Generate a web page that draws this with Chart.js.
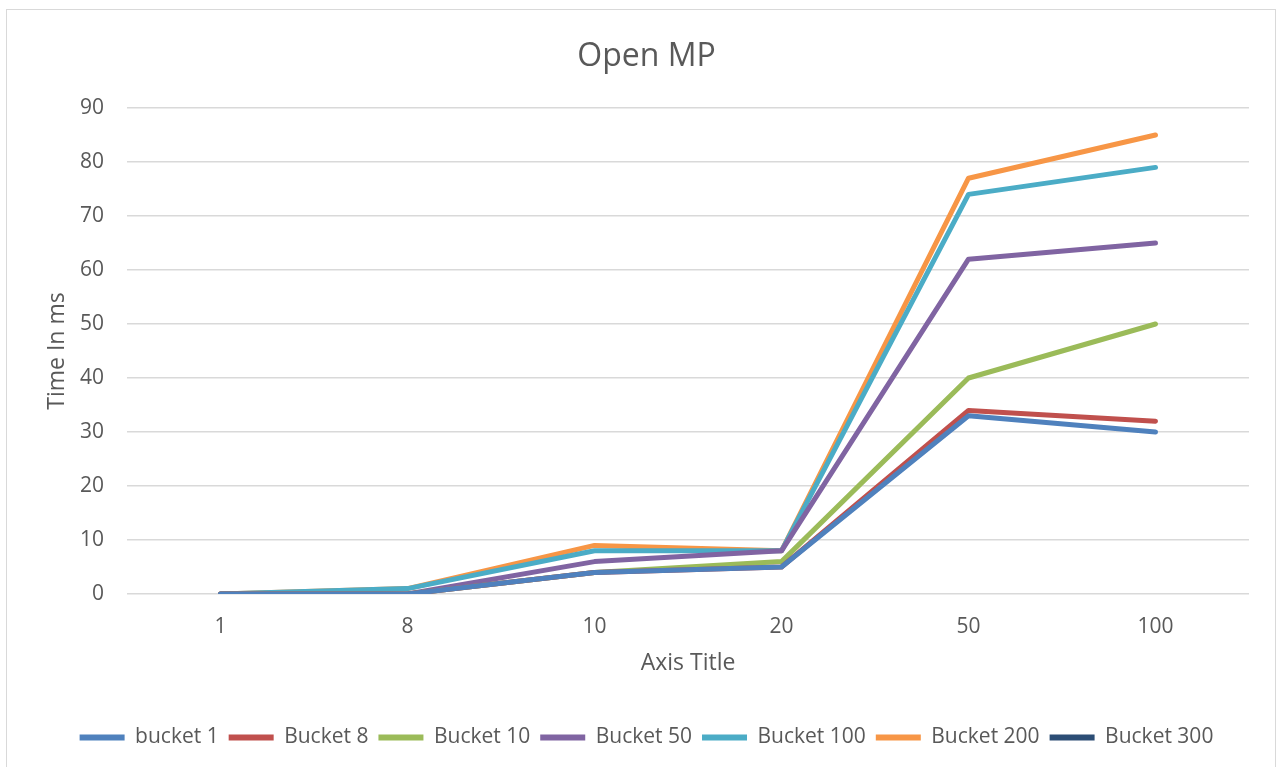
<!DOCTYPE html>
<html>
<head>
<meta charset="utf-8">
<script src="https://cdn.jsdelivr.net/npm/chart.js@4.4.1/dist/chart.umd.min.js"></script>
<style>
  html, body { margin: 0; padding: 0; background: #ffffff; }
  #frame { position: absolute; left: 6px; top: 9px; width: 1270px; height: 770px; border: 1px solid #d9d9d9; box-sizing: border-box; }
  #wrap { position: absolute; left: 0; top: 0; width: 1285px; height: 767px; }
</style>
</head>
<body>
<div id="frame"></div>
<div id="wrap"><canvas id="chart" width="1285" height="767"></canvas></div>
<script>
// Thread counts on the x axis
const categories = ['1', '8', '10', '20', '50', '100'];

// Run time (ms) per bucket setting
const bucket1   = [0, 0, 4, 5, 33, 30];
const bucket8   = [0, 0, 4, 5, 34, 32];
const bucket10  = [0, 0, 4, 6, 40, 50];
const bucket50  = [0, 0, 6, 8, 62, 65];
const bucket100 = [0, 1, 8, 8, 74, 79];
const bucket200 = [0, 1, 9, 8, 77, 85];
const bucket300 = [];

const seriesNames = ['bucket 1', 'Bucket 8', 'Bucket 10', 'Bucket 50', 'Bucket 100', 'Bucket 200', 'Bucket 300'];
const seriesData = [bucket1, bucket8, bucket10, bucket50, bucket100, bucket200, bucket300];
const seriesColors = ['#4f81bd', '#c0504d', '#9bbb59', '#8064a2', '#4bacc6', '#f79646', '#2c4d75'];

const FONT = '"Open Sans", sans-serif';
const TEXT = '#595959';

const datasets = seriesNames.map((name, i) => ({
  label: name,
  data: seriesData[i],
  borderColor: seriesColors[i],
  backgroundColor: seriesColors[i],
  borderWidth: 5,
  borderCapStyle: 'round',
  borderJoinStyle: 'round',
  pointRadius: 0,
  tension: 0
}));

new Chart(document.getElementById('chart'), {
  type: 'line',
  data: { labels: categories, datasets },
  options: {
    responsive: false,
    animation: false,
    layout: { padding: { left: 44, right: 36, top: 0, bottom: 9 } },
    plugins: {
      title: {
        display: true,
        text: 'Open MP',
        color: TEXT,
        font: { family: FONT, size: 32, weight: 'normal' },
        padding: { top: 38, bottom: 31.6 }
      },
      legend: {
        position: 'bottom',
        labels: {
          color: TEXT,
          font: { family: FONT, size: 21 },
          boxWidth: 45,
          boxHeight: 6,
          padding: 10,
          useBorderRadius: true,
          borderRadius: 3,
          generateLabels(chart) {
            return chart.data.datasets.map((ds, i) => ({
              text: ds.label,
              fillStyle: ds.borderColor,
              strokeStyle: ds.borderColor,
              lineWidth: 0,
              fontColor: TEXT,
              hidden: false,
              datasetIndex: i
            }));
          }
        }
      },
      tooltip: { enabled: false }
    },
    scales: {
      x: {
        offset: true,
        afterFit(scale) { scale.height = 123; },
        grid: { display: false, drawTicks: false },
        border: { display: false },
        ticks: { color: TEXT, font: { family: FONT, size: 21 }, padding: 20 },
        title: { display: true, text: 'Axis Title', color: TEXT, font: { family: FONT, size: 23 }, padding: { top: 0, bottom: 40 } }
      },
      y: {
        min: 0,
        max: 90,
        afterFit(scale) { scale.width = 83; },
        ticks: { stepSize: 10, color: TEXT, font: { family: FONT, size: 21 }, padding: 23 },
        grid: { color: '#d9d9d9', lineWidth: 1.5, drawTicks: false },
        border: { display: false },
        title: { display: true, text: 'Time In ms', color: TEXT, font: { family: FONT, size: 23 }, padding: 0 }
      }
    }
  }
});
</script>
</body>
</html>
